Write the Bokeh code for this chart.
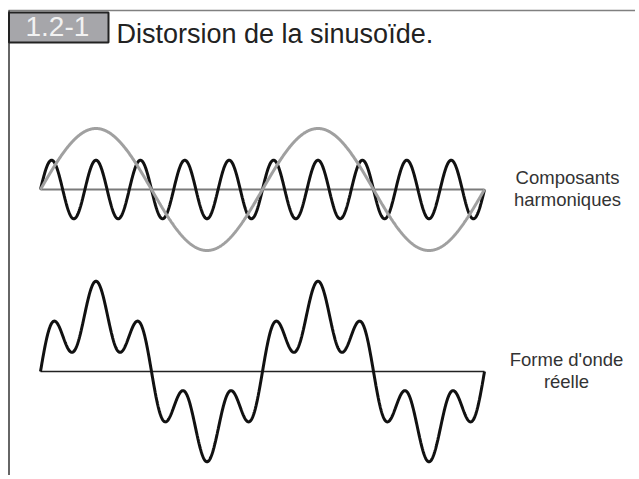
import numpy as np
from bokeh.plotting import figure
from bokeh.models import Range1d, Label
from bokeh.embed import file_html
from bokeh.resources import INLINE

# ---- data ----
harmonic_orders = [1, 5]          # fundamental and 5th harmonic
harmonic_amplitudes = [1.0, 0.48]  # relative amplitudes
fundamental_cycles = 2
title_number = "1.2-1"
title_text = "Distorsion de la sinusoïde."
label_top = ["Composants", "harmoniques"]
label_bottom = ["Forme d'onde", "réelle"]

FONT = "Liberation Sans"
W, H = 635, 475
p = figure(width=W, height=H, x_range=Range1d(0, W), y_range=Range1d(H, 0),
           output_backend="svg", toolbar_location=None, min_border=0)
p.axis.visible = False
p.grid.visible = False
p.outline_line_color = None
p.background_fill_color = "white"

# frame
p.line([8, 640], [10, 10], line_color="#808080", line_width=1.5)
p.line([8.5, 8.5], [10, 480], line_color="#333333", line_width=1.5)

# title box
p.quad(left=[8.5], right=[108], top=[12], bottom=[42], fill_color="#a6a6aa",
       line_color="#222222", line_width=2)
p.add_layout(Label(x=25, y=26, text=title_number, text_font=FONT, text_font_size="28px",
                   text_color="#f2f2f2", text_baseline="alphabetic"))
p.add_layout(Label(x=116, y=33.5, text=title_text, text_font=FONT, text_font_size="27px",
                   text_color="#222222", text_baseline="alphabetic"))

# waves
x0, x1 = 40, 484
amp_px = 61
theta = np.linspace(0, 2 * np.pi * fundamental_cycles, 1200)
xs = x0 + theta / theta[-1] * (x1 - x0)
comps = [a * np.sin(n * theta) for n, a in zip(harmonic_orders, harmonic_amplitudes)]

ytop = 189
p.line([x0, x1], [ytop, ytop], line_color="#7a7a7a", line_width=2)
p.line(xs, ytop - amp_px * comps[1], line_color="#111111", line_width=3)
p.line(xs, ytop - amp_px * comps[0], line_color="#a0a0a0", line_width=3)

ybot = 371
p.line([x0, x1], [ybot, ybot], line_color="#222222", line_width=1.5)
p.line(xs, ybot - amp_px * (comps[0] + comps[1]), line_color="#111111", line_width=3)

# side labels
for i, t in enumerate(label_top):
    p.add_layout(Label(x=567, y=177 + 22 * i, text=t, text_font=FONT, text_font_size="18.5px",
                       text_color="#333333", text_align="center", text_baseline="alphabetic"))
for i, t in enumerate(label_bottom):
    p.add_layout(Label(x=566, y=359 + 22 * i, text=t, text_font=FONT, text_font_size="18.5px",
                       text_color="#333333", text_align="center", text_baseline="alphabetic"))

open("out.html", "w").write(file_html(p, INLINE))
